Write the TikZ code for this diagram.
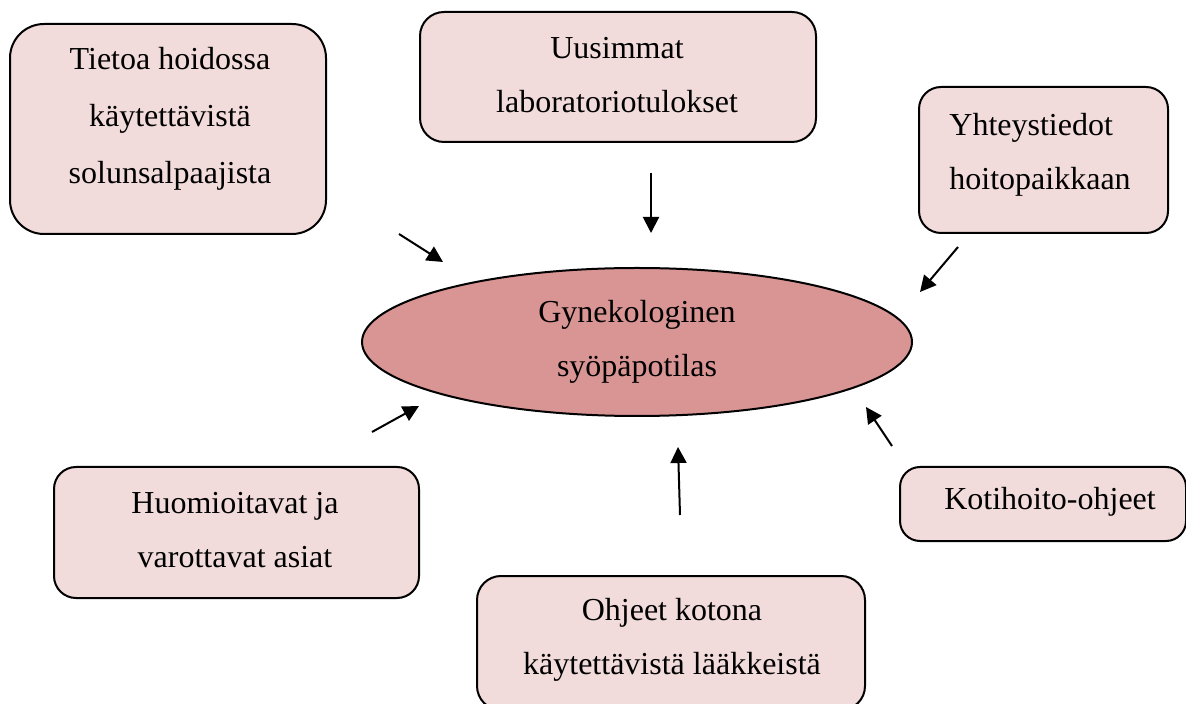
\documentclass[tikz,border=0pt]{standalone}
\usepackage{fontspec}
\setmainfont{Liberation Serif}
\usetikzlibrary{arrows.meta,shapes.geometric}
\definecolor{boxfill}{HTML}{F2DCDB}
\definecolor{ellfill}{HTML}{D99594}
\tikzset{
  box/.style={draw=black, line width=1pt, fill=boxfill, rounded corners=#1, inner sep=0pt},
  box/.default=12pt,
  txt/.style={align=center, font=\fontsize{16}{27}\selectfont, inner sep=0pt},
  arr/.style={line width=1pt, -{Triangle[length=8pt,width=8pt]}}
}
\begin{document}
\begin{tikzpicture}[x=0.5pt,y=-0.5pt]
\useasboundingbox (0,0) rectangle (1186,704);
% boxes
\node[box=17pt, minimum width=158pt, minimum height=105pt] (b1) at (168,129) {};
\node[txt] (t1) at (170,119) {Tietoa hoidossa\\[1.5pt]käytettävistä\\[1.5pt]solunsalpaajista};
\node[box=12pt, minimum width=198pt, minimum height=65pt] (b2) at (618,77) {};
\node[txt] (t2) at (617,75) {Uusimmat\\laboratoriotulokset};
\node[box=11pt, minimum width=124.5pt, minimum height=73pt] (b3) at (1043.5,160) {};
\node[txt, align=left, anchor=west] (t3) at (949,155) {Yhteystiedot\\hoitopaikkaan};
\node[box=11pt, minimum width=182.5pt, minimum height=65.5pt] (b4) at (236.5,532.5) {};
\node[txt] (t4) at (235,530.5) {Huomioitavat ja\\varottavat asiat};
\node[box=10pt, minimum width=143pt, minimum height=37pt] (b5) at (1043,504) {};
\node[txt] (t5) at (1050,502) {Kotihoito-ohjeet};
\node[box=12pt, minimum width=194pt, minimum height=67pt] (b6) at (671,643) {};
\node[txt] (t6) at (672,639.5) {Ohjeet kotona\\käytettävistä lääkkeistä};
% ellipse
\node[ellipse, draw=black, line width=1pt, fill=ellfill, minimum width=275pt, minimum height=74pt, inner sep=0pt] (e) at (637,342) {};
\node[txt] (te) at (637,341.5) {Gynekologinen\\syöpäpotilas};
% arrow coordinates
\coordinate (a1s) at (399,234); \coordinate (a1e) at (443,262);
\coordinate (a2s) at (651,173); \coordinate (a2e) at (651,233);
\coordinate (a3s) at (958,247); \coordinate (a3e) at (920,292);
\coordinate (a4s) at (372,432); \coordinate (a4e) at (419,406);
\coordinate (a5s) at (680,515); \coordinate (a5e) at (678,447);
\coordinate (a6s) at (892,446); \coordinate (a6e) at (866,407);
\draw[arr] (a1s) -- (a1e);
\draw[arr] (a2s) -- (a2e);
\draw[arr] (a3s) -- (a3e);
\draw[arr] (a4s) -- (a4e);
\draw[arr] (a5s) -- (a5e);
\draw[arr] (a6s) -- (a6e);
\end{tikzpicture}
\end{document}
